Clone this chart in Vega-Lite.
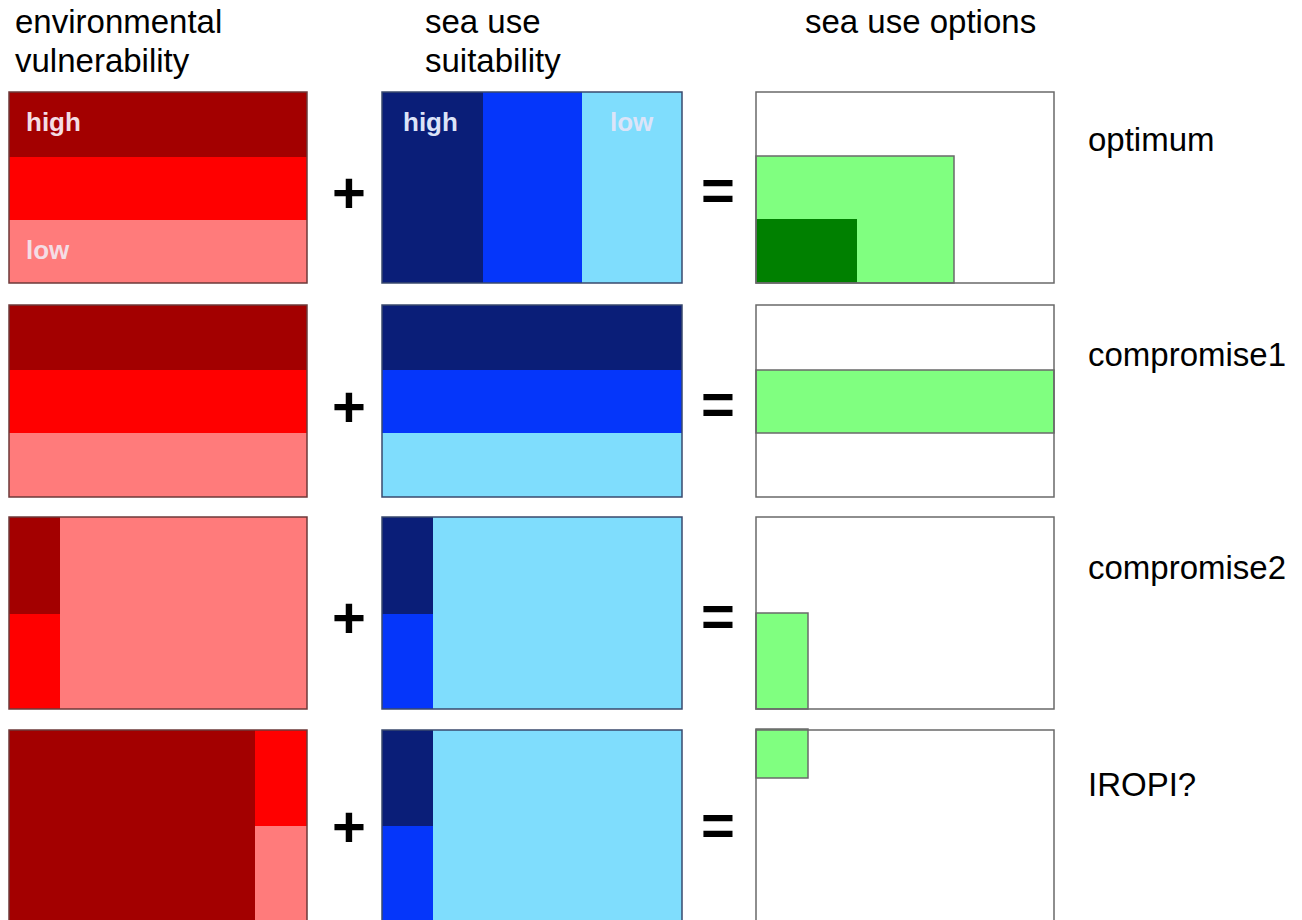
{
  "$schema": "https://vega.github.io/schema/vega-lite/v6.json",
  "width": 1302,
  "height": 920,
  "autosize": {"type": "fit", "contains": "padding"},
  "padding": 0,
  "background": "white",
  "config": {"view": {"stroke": null}, "font": "Liberation Sans"},
  "datasets": {
    "cells": [
      {"row": "optimum", "x0": 9, "x1": 307, "y0": 92, "y1": 157, "cls": "vuln high"},
      {"row": "optimum", "x0": 9, "x1": 307, "y0": 157, "y1": 220, "cls": "vuln mid"},
      {"row": "optimum", "x0": 9, "x1": 307, "y0": 220, "y1": 283, "cls": "vuln low"},
      {"row": "optimum", "x0": 382, "x1": 483, "y0": 92, "y1": 283, "cls": "suit high"},
      {"row": "optimum", "x0": 483, "x1": 582, "y0": 92, "y1": 283, "cls": "suit mid"},
      {"row": "optimum", "x0": 582, "x1": 682, "y0": 92, "y1": 283, "cls": "suit low"},
      {"row": "optimum", "x0": 756, "x1": 954, "y0": 156, "y1": 283, "cls": "possible"},
      {"row": "optimum", "x0": 756, "x1": 857, "y0": 219, "y1": 283, "cls": "optimal"},
      {"row": "compromise1", "x0": 9, "x1": 307, "y0": 305, "y1": 370, "cls": "vuln high"},
      {"row": "compromise1", "x0": 9, "x1": 307, "y0": 370, "y1": 433, "cls": "vuln mid"},
      {"row": "compromise1", "x0": 9, "x1": 307, "y0": 433, "y1": 497, "cls": "vuln low"},
      {"row": "compromise1", "x0": 382, "x1": 682, "y0": 305, "y1": 370, "cls": "suit high"},
      {"row": "compromise1", "x0": 382, "x1": 682, "y0": 370, "y1": 433, "cls": "suit mid"},
      {"row": "compromise1", "x0": 382, "x1": 682, "y0": 433, "y1": 497, "cls": "suit low"},
      {"row": "compromise1", "x0": 756, "x1": 1054, "y0": 370, "y1": 433, "cls": "possible"},
      {"row": "compromise2", "x0": 9, "x1": 60, "y0": 517, "y1": 614, "cls": "vuln high"},
      {"row": "compromise2", "x0": 9, "x1": 60, "y0": 614, "y1": 709, "cls": "vuln mid"},
      {"row": "compromise2", "x0": 60, "x1": 307, "y0": 517, "y1": 709, "cls": "vuln low"},
      {"row": "compromise2", "x0": 382, "x1": 433, "y0": 517, "y1": 614, "cls": "suit high"},
      {"row": "compromise2", "x0": 382, "x1": 433, "y0": 614, "y1": 709, "cls": "suit mid"},
      {"row": "compromise2", "x0": 433, "x1": 682, "y0": 517, "y1": 709, "cls": "suit low"},
      {"row": "compromise2", "x0": 756, "x1": 808, "y0": 613, "y1": 709, "cls": "possible"},
      {"row": "IROPI?", "x0": 9, "x1": 255, "y0": 730, "y1": 921, "cls": "vuln high"},
      {"row": "IROPI?", "x0": 255, "x1": 307, "y0": 730, "y1": 826, "cls": "vuln mid"},
      {"row": "IROPI?", "x0": 255, "x1": 307, "y0": 826, "y1": 921, "cls": "vuln low"},
      {"row": "IROPI?", "x0": 382, "x1": 433, "y0": 730, "y1": 826, "cls": "suit high"},
      {"row": "IROPI?", "x0": 382, "x1": 433, "y0": 826, "y1": 921, "cls": "suit mid"},
      {"row": "IROPI?", "x0": 433, "x1": 682, "y0": 730, "y1": 921, "cls": "suit low"},
      {"row": "IROPI?", "x0": 756, "x1": 808, "y0": 729, "y1": 778, "cls": "possible"}
    ],
    "frames": [
      {"x0": 9, "x1": 307, "y0": 92, "y1": 283, "kind": "vuln"},
      {"x0": 382, "x1": 682, "y0": 92, "y1": 283, "kind": "suit"},
      {"x0": 756, "x1": 1054, "y0": 92, "y1": 283, "kind": "opt"},
      {"x0": 9, "x1": 307, "y0": 305, "y1": 497, "kind": "vuln"},
      {"x0": 382, "x1": 682, "y0": 305, "y1": 497, "kind": "suit"},
      {"x0": 756, "x1": 1054, "y0": 305, "y1": 497, "kind": "opt"},
      {"x0": 9, "x1": 307, "y0": 517, "y1": 709, "kind": "vuln"},
      {"x0": 382, "x1": 682, "y0": 517, "y1": 709, "kind": "suit"},
      {"x0": 756, "x1": 1054, "y0": 517, "y1": 709, "kind": "opt"},
      {"x0": 9, "x1": 307, "y0": 730, "y1": 921, "kind": "vuln"},
      {"x0": 382, "x1": 682, "y0": 730, "y1": 921, "kind": "suit"},
      {"x0": 756, "x1": 1054, "y0": 730, "y1": 921, "kind": "opt"},
      {"x0": 756, "x1": 954, "y0": 156, "y1": 283, "kind": "opt"},
      {"x0": 756, "x1": 1054, "y0": 370, "y1": 433, "kind": "opt"},
      {"x0": 756, "x1": 808, "y0": 613, "y1": 709, "kind": "opt"},
      {"x0": 756, "x1": 808, "y0": 729, "y1": 778, "kind": "opt"}
    ],
    "headers": [
      {"text": "environmental", "x": 15, "y": 33},
      {"text": "vulnerability", "x": 15, "y": 72},
      {"text": "sea use", "x": 425, "y": 33},
      {"text": "suitability", "x": 425, "y": 72},
      {"text": "sea use options", "x": 805, "y": 33}
    ],
    "rowlabels": [
      {"text": "optimum", "x": 1088, "y": 151},
      {"text": "compromise1", "x": 1088, "y": 366},
      {"text": "compromise2", "x": 1088, "y": 579},
      {"text": "IROPI?", "x": 1088, "y": 796}
    ],
    "inner": [
      {"text": "high", "x": 26, "y": 131, "group": "red"},
      {"text": "low", "x": 26, "y": 259, "group": "red"},
      {"text": "high", "x": 403, "y": 131, "group": "blue"},
      {"text": "low", "x": 610, "y": 131, "group": "blue"}
    ],
    "ops": [
      {"text": "+", "x": 349, "y": 196},
      {"text": "+", "x": 349, "y": 410},
      {"text": "+", "x": 349, "y": 621},
      {"text": "+", "x": 349, "y": 830},
      {"text": "=", "x": 718, "y": 193},
      {"text": "=", "x": 718, "y": 407},
      {"text": "=", "x": 718, "y": 619},
      {"text": "=", "x": 718, "y": 828}
    ]
  },
  "encoding": {
    "x": {"field": "x0", "type": "quantitative", "scale": {"domain": [0, 1302], "nice": false, "zero": false}, "axis": null},
    "y": {"field": "y0", "type": "quantitative", "scale": {"domain": [0, 920], "nice": false, "zero": false, "reverse": true}, "axis": null}
  },
  "layer": [
    {
      "data": {"name": "cells"},
      "mark": {"type": "rect", "clip": true, "strokeWidth": 0},
      "encoding": {
        "x2": {"field": "x1"},
        "y2": {"field": "y1"},
        "color": {
          "field": "cls",
          "type": "nominal",
          "legend": null,
          "scale": {
            "domain": ["vuln high", "vuln mid", "vuln low", "suit high", "suit mid", "suit low", "possible", "optimal"],
            "range": ["#a30000", "#ff0000", "#ff7b7b", "#0a1e78", "#0536fa", "#7fddfd", "#80ff80", "#008000"]
          }
        }
      }
    },
    {
      "data": {"name": "frames"},
      "mark": {"type": "rect", "filled": false, "clip": true, "strokeWidth": 1.5},
      "encoding": {
        "x2": {"field": "x1"},
        "y2": {"field": "y1"},
        "stroke": {
          "field": "kind",
          "type": "nominal",
          "legend": null,
          "scale": {"domain": ["vuln", "suit", "opt"], "range": ["#6e3a3a", "#3a4a6e", "#6a6a6a"]}
        }
      }
    },
    {
      "data": {"name": "headers"},
      "mark": {"type": "text", "align": "left", "baseline": "alphabetic", "fontSize": 33, "font": "Liberation Sans", "color": "#000000"},
      "encoding": {
        "x": {"field": "x", "type": "quantitative"},
        "y": {"field": "y", "type": "quantitative"},
        "text": {"field": "text"}
      }
    },
    {
      "data": {"name": "rowlabels"},
      "mark": {"type": "text", "align": "left", "baseline": "alphabetic", "fontSize": 33, "font": "Liberation Sans", "color": "#000000"},
      "encoding": {
        "x": {"field": "x", "type": "quantitative"},
        "y": {"field": "y", "type": "quantitative"},
        "text": {"field": "text"}
      }
    },
    {
      "data": {"name": "inner"},
      "transform": [{"filter": "datum.group === 'red'"}],
      "mark": {"type": "text", "align": "left", "baseline": "alphabetic", "fontSize": 26, "fontWeight": "bold", "font": "Liberation Sans", "color": "#f4dde4"},
      "encoding": {
        "x": {"field": "x", "type": "quantitative"},
        "y": {"field": "y", "type": "quantitative"},
        "text": {"field": "text"}
      }
    },
    {
      "data": {"name": "inner"},
      "transform": [{"filter": "datum.group === 'blue'"}],
      "mark": {"type": "text", "align": "left", "baseline": "alphabetic", "fontSize": 26, "fontWeight": "bold", "font": "Liberation Sans", "color": "#dce4f8"},
      "encoding": {
        "x": {"field": "x", "type": "quantitative"},
        "y": {"field": "y", "type": "quantitative"},
        "text": {"field": "text"}
      }
    },
    {
      "data": {"name": "ops"},
      "mark": {"type": "text", "align": "center", "baseline": "middle", "fontSize": 58, "fontWeight": "bold", "font": "Liberation Sans", "color": "#000000"},
      "encoding": {
        "x": {"field": "x", "type": "quantitative"},
        "y": {"field": "y", "type": "quantitative"},
        "text": {"field": "text"}
      }
    }
  ]
}
